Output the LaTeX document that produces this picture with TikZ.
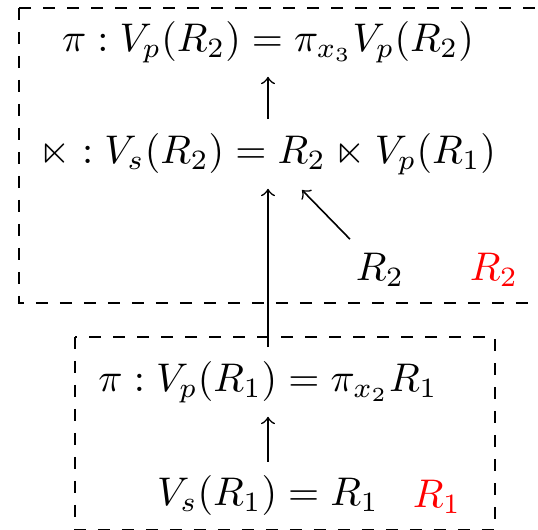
\documentclass[tikz,border=0pt]{standalone}
\usepackage{amssymb}
\newcommand{\semij}{\ltimes}
\tikzset{frame/.style={dashed, semithick}}

\begin{document}
\begin{tikzpicture}[x = 0.25pt, y = -0.25pt, >=to]
\useasboundingbox (0,0) rectangle (538,530);
% upper block
\draw[frame] (19,8) rectangle (570,303);
\node (projtwo) at (268,42) {$\pi : V_p(R_2) = \pi_{x_3} V_p(R_2)$};
\node (semi) at (268,154) {$\semij : V_s(R_2) = R_2 \semij V_p(R_1)$};
\node (rtwo) at (380,270) {$R_2$};
\node[red] (rtwored) at (494,270) {$R_2$};
\coordinate (join) at (302,190);
\draw[->] (semi) -- (projtwo);
\draw[->] (rtwo) -- (join);
% lower block
\draw[frame] (75,337) rectangle (495,530);
\node (projone) at (268,382) {$\pi : V_p(R_1) = \pi_{x_2} R_1$};
\node (vsone) at (268,496) {$V_s(R_1) = R_1$};
\node[red] (ronered) at (437,497) {$R_1$};
\draw[->] (vsone) -- (projone);
\draw[->] (projone) -- (semi);
\end{tikzpicture}
\end{document}
